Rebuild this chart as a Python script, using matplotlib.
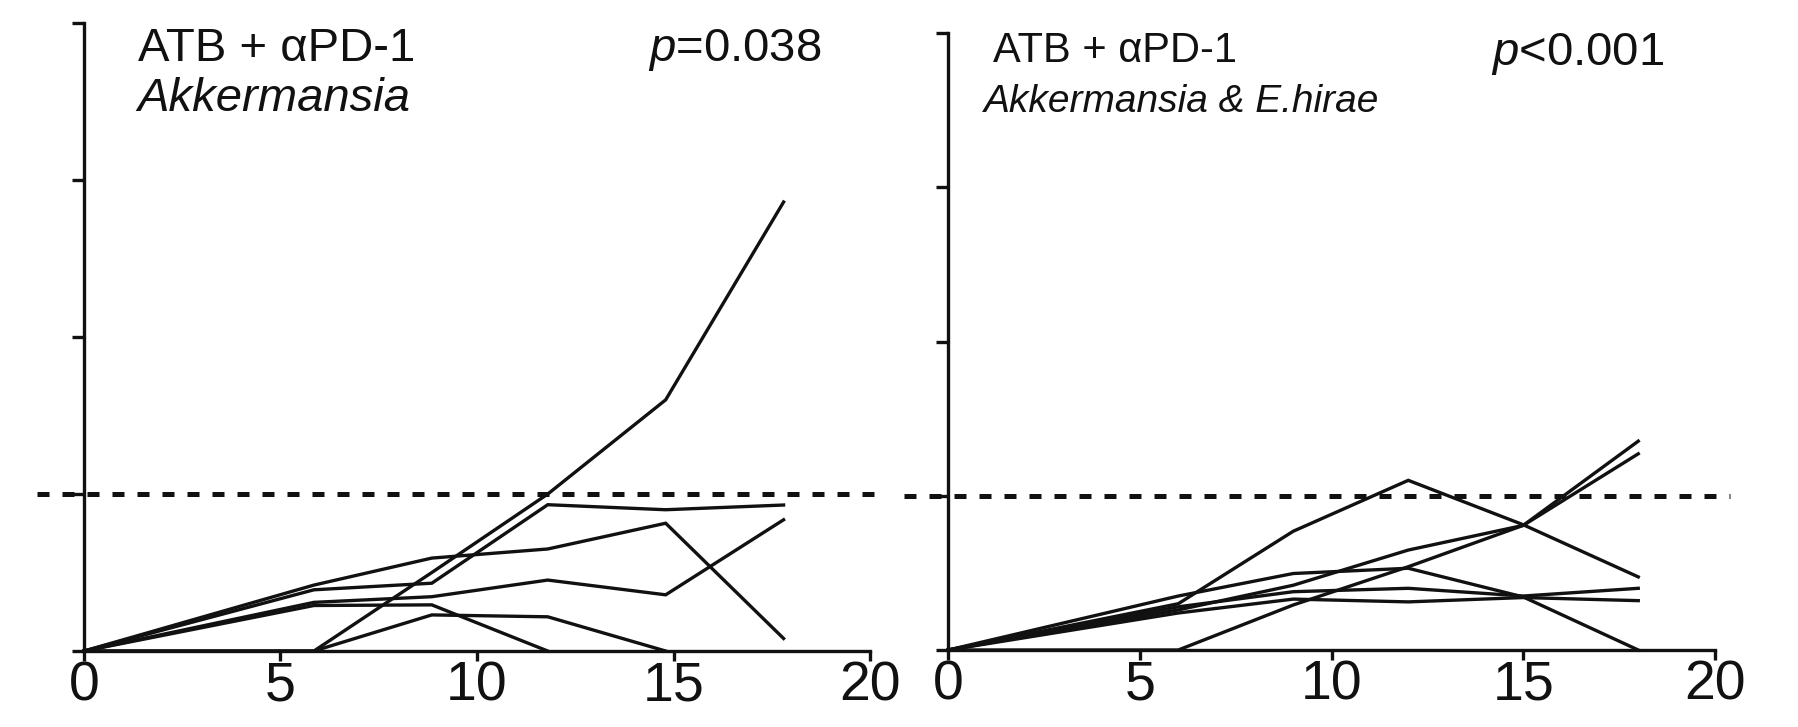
import matplotlib
matplotlib.use("Agg")
import matplotlib.pyplot as plt

plt.rcParams['font.family'] = ['Liberation Sans', 'DejaVu Sans']
plt.rcParams['mathtext.fontset'] = 'custom'
plt.rcParams['mathtext.rm'] = 'Liberation Sans'
plt.rcParams['mathtext.it'] = 'Liberation Sans:italic'

# Tumour growth per mouse (mm^2) versus days after treatment start
days_akk = [0, 5.85, 8.85, 11.8, 14.8, 17.8]
akk_mouse1 = [0, 0, 25, 50, 80, 143]
akk_mouse2 = [0, 19.5, 21.6, 46.6, 45, 46.5]
akk_mouse3 = [0, 21, 29.6, 32.5, 40.7, 4.0]
akk_mouse4 = [0, 15.5, 17.3, 22.6, 17.9, 41.8]
akk_mouse5 = [0, 14.5, 14.7, 0]
akk_mouse6 = [0, 0, 11.5, 10.9, 0]

days_hir = [0, 6, 9, 12, 15, 18]
hir_mouse1 = [0, 15, 38.5, 55, 40.6, 23.7]
hir_mouse2 = [0, 0, 14.6, 27, 40.4, 67.7]
hir_mouse3 = [0, 13, 21, 32.4, 40.4, 63.6]
hir_mouse4 = [0, 17.5, 24.8, 26.5, 17.2, 0]
hir_mouse5 = [0, 14, 18.9, 20.0, 17.5, 20.0]
hir_mouse6 = [0, 12, 16.5, 15.6, 17.0, 16.0]

threshold = 50
x_ticks = [0, 5, 10, 15, 20]
y_ticks = [0, 50, 100, 150, 200]

panels = [
    dict(rect=[0.0467, 0.1045, 0.4372, 0.8638], days=days_akk,
         mice=[akk_mouse1, akk_mouse2, akk_mouse3, akk_mouse4, akk_mouse5, akk_mouse6],
         title1="ATB + \u03b1PD-1", title2="Akkermansia",
         pval=r"$\it{p}$=0.038",
         t1=(1.37, 188, 34), t2=(1.35, 172, 34),
         pv=(14.35, 188, 34), dash=(-1.2, 20.4)),
    dict(rect=[0.5274, 0.1059, 0.4264, 0.8487], days=days_hir,
         mice=[hir_mouse1, hir_mouse2, hir_mouse3, hir_mouse4, hir_mouse5, hir_mouse6],
         title1="ATB + \u03b1PD-1", title2="Akkermansia & E.hirae",
         pval=r"$\it{p}$<0.001",
         t1=(1.17, 190.5, 30), t2=(0.93, 174.5, 28),
         pv=(14.15, 189.5, 34), dash=(-1.15, 20.4)),
]

fig = plt.figure(figsize=(17.98, 7.27), dpi=100)
ink = '#111111'

for p in panels:
    ax = fig.add_axes(p['rect'])
    for m in p['mice']:
        ax.plot(p['days'][:len(m)], m, color=ink, lw=2.4, solid_joinstyle='miter',
                clip_on=False, zorder=3)
    ax.plot(list(p['dash']), [threshold, threshold], color=ink, lw=3.6,
            dashes=(2.4, 2.6), clip_on=False, zorder=4)
    ax.set_xlim(0, 20)
    ax.set_ylim(0, 200)
    ax.set_xticks(x_ticks)
    ax.set_xticklabels([str(t) for t in x_ticks], fontsize=40)
    ax.set_yticks(y_ticks)
    ax.set_yticklabels([])
    ax.tick_params(axis='both', width=2.4, color=ink, labelcolor=ink)
    ax.tick_params(axis='x', length=7, pad=0)
    ax.tick_params(axis='y', length=8.5)
    for s in ('top', 'right'):
        ax.spines[s].set_visible(False)
    for s in ('left', 'bottom'):
        ax.spines[s].set_linewidth(2.4)
        ax.spines[s].set_color(ink)
    x1, y1, f1 = p['t1']
    ax.text(x1, y1, p['title1'], fontsize=f1, color=ink, va='baseline')
    x2, y2, f2 = p['t2']
    ax.text(x2, y2, p['title2'], fontsize=f2, color=ink, va='baseline',
            style='italic')
    x3, y3, f3 = p['pv']
    ax.text(x3, y3, p['pval'], fontsize=f3, color=ink, va='baseline')

fig.savefig('out.png', dpi=100)
